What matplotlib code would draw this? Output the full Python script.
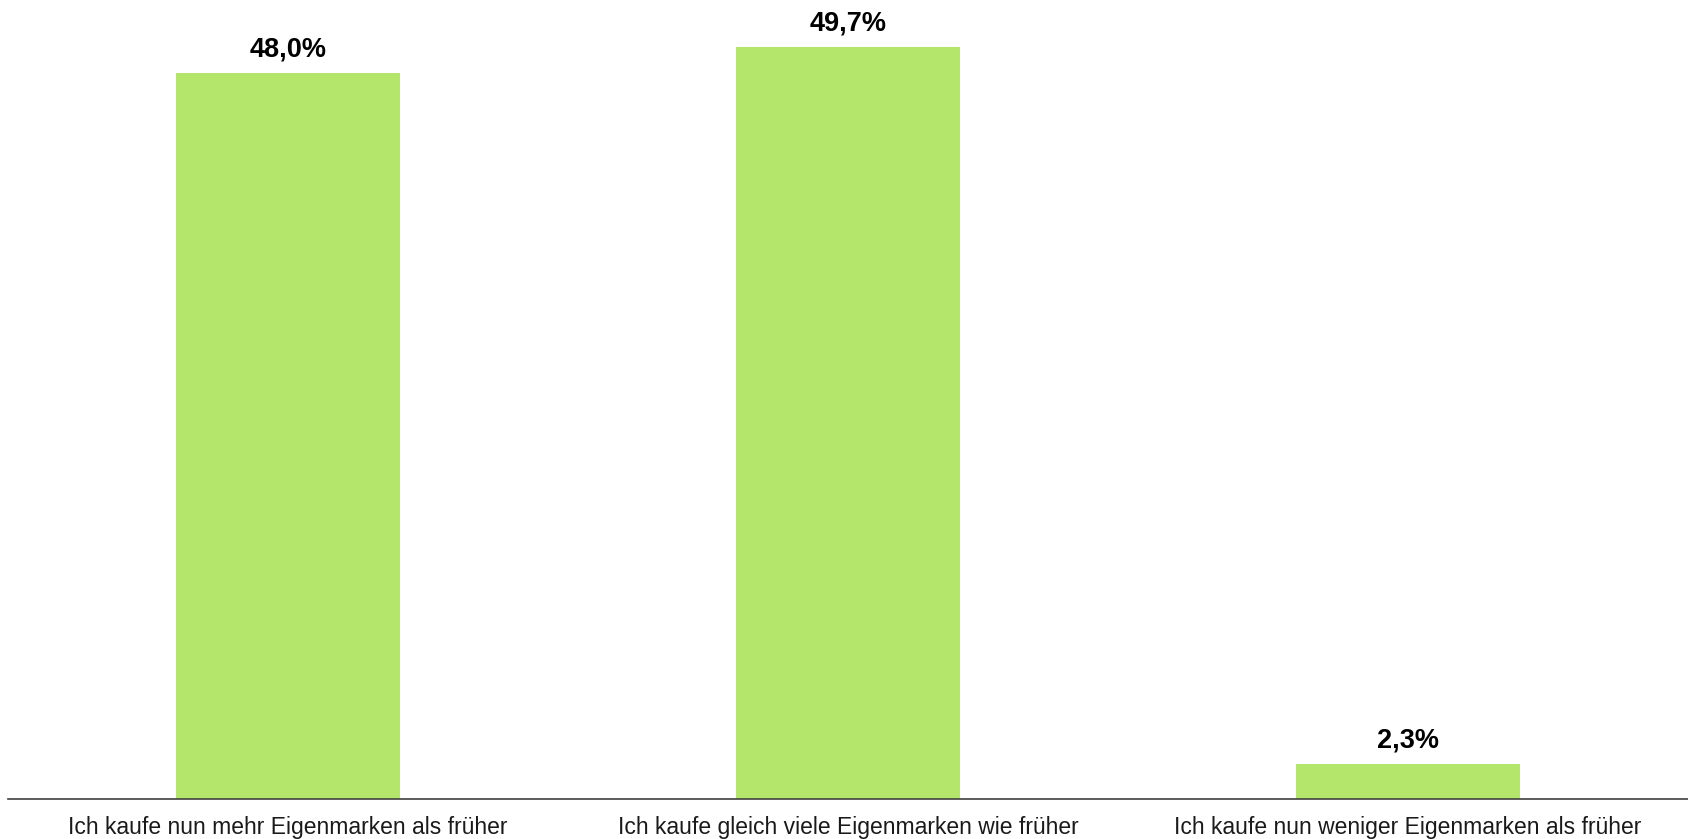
import matplotlib.pyplot as plt

categories = [
    "Ich kaufe nun mehr Eigenmarken als früher",
    "Ich kaufe gleich viele Eigenmarken wie früher",
    "Ich kaufe nun weniger Eigenmarken als früher",
]
shares = [48.0, 49.7, 2.3]

plt.rcParams['font.family'] = ['Liberation Sans', 'DejaVu Sans']

fig = plt.figure(figsize=(16.88, 8.39), dpi=100)
ax = fig.add_axes([8 / 1688, 40 / 839, 1680 / 1688, 799 / 839])

x = range(len(categories))
bars = ax.bar(x, shares, width=0.4, color='#b3e66b')

labels = [f"{v:.1f}%".replace('.', ',') for v in shares]
ax.bar_label(bars, labels=labels, padding=8, fontsize=19.5,
             fontweight='bold', color='black')

ax.set_xlim(-0.5, len(categories) - 0.5)
ax.set_ylim(0, 52.84)
ax.set_xticks(list(x))
ax.set_xticklabels(categories, fontsize=16.5, color='#1a1a1a')
ax.tick_params(axis='x', length=0, pad=12.5)
ax.set_yticks([])

for side in ['top', 'right', 'left']:
    ax.spines[side].set_visible(False)
ax.spines['bottom'].set_color('#404040')
ax.spines['bottom'].set_linewidth(1.2)

fig.savefig('out.png', dpi=100)
